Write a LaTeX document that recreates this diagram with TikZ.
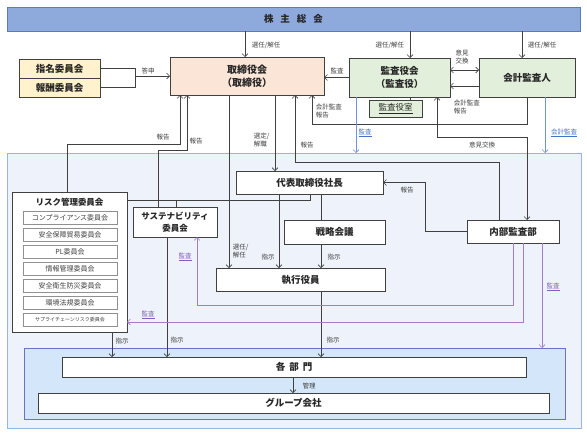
\documentclass[tikz,border=0pt]{standalone}
\usepackage{fontspec}
\setmainfont{Noto Sans CJK JP}
\usetikzlibrary{arrows.meta}
\definecolor{lineC}{HTML}{404040}
\definecolor{txtC}{HTML}{404040}
\definecolor{barF}{HTML}{8EA9DB}
\definecolor{barD}{HTML}{5B7BC0}
\definecolor{peach}{HTML}{FBE5D6}
\definecolor{grn}{HTML}{E2EFDA}
\definecolor{yel}{HTML}{FFF2CC}
\definecolor{outerF}{HTML}{EEF2FA}
\definecolor{outerD}{HTML}{9BB3E0}
\definecolor{innerF}{HTML}{D4E6FA}
\definecolor{innerD}{HTML}{6A72C8}
\definecolor{purp}{HTML}{A07CCB}
\definecolor{purpT}{HTML}{8060B8}
\definecolor{blueL}{HTML}{7094D8}
\definecolor{blueT}{HTML}{4472C4}
\definecolor{subD}{HTML}{909090}
\begin{document}
\begin{tikzpicture}[x=1pt,y=-1pt, line width=0.6pt,
 >={Straight Barb[length=3pt,width=6pt]},
 box/.style={draw=lineC, fill=white, inner sep=0pt, outer sep=0pt, align=center, font=\fontsize{9.5}{12.5}\selectfont\bfseries, text=black!85},
 region/.style={inner sep=0pt, outer sep=0pt},
 subbox/.style={draw=subD, fill=white, inner sep=0pt, outer sep=0pt, minimum width=94, minimum height=13, font=\fontsize{7}{8}\selectfont, text=txtC},
 lbl/.style={font=\fontsize{6.5}{7.8}\selectfont, text=txtC, inner sep=0.5pt, align=left},
 conn/.style={draw=lineC},
 pconn/.style={draw=purp},
 bconn/.style={draw=blueL},
]
\useasboundingbox (0,0) rectangle (587,434);
\fill[white] (0,0) rectangle (587,434);

% column / row helper coordinates
\foreach \c in {67,112,135,158,167,176,180,187,197,229,245,275,279,293,295,310,312,321,356,410,425,437,499,513,522,523,527,542,545}{
  \coordinate (X\c) at (\c,0);
}
\foreach \r in {70,86,124,137,144,150,162,200,305,322}{
  \coordinate (Y\r) at (0,\r);
}

% regions
\node[region, draw=outerD, fill=outerF, minimum width=574, minimum height=275] (exec) at (294,290.5) {};
\node[region, draw=innerD, fill=innerF, minimum width=541, minimum height=71] (dept) at (294.5,383.5) {};

% boxes
\node[box, draw=barD, fill=barF, minimum width=573, minimum height=24] (gm) at (293.5,19) {株\hspace{7pt}主\hspace{7pt}総\hspace{7pt}会};
\node[box, fill=yel, minimum width=81, minimum height=19] (shimei) at (59.5,68.5) {指名委員会};
\node[box, fill=yel, minimum width=81, minimum height=19] (houshu) at (59.5,87.5) {報酬委員会};
\node[box, fill=peach, minimum width=154, minimum height=38, font=\fontsize{10}{13}\selectfont\bfseries] (tori) at (247,76) {取締役会\\（取締役）};
\node[box, fill=grn, minimum width=101, minimum height=39] (kansa) at (399.5,77.5) {監査役会\\（監査役）};
\node[box, fill=grn, minimum width=53, minimum height=17, font=\fontsize{8.5}{10}\selectfont] (kshitsu) at (395.5,108.5) {\underline{監査役室}};
\node[box, fill=grn, minimum width=96, minimum height=39] (kaikei) at (527,77.5) {会計監査人};

\node[box, minimum width=147, minimum height=23] (daihyo) at (309.5,182.5) {代表取締役社長};
\node[box, minimum width=101, minimum height=24] (senryaku) at (334.5,232) {戦略会議};
\node[box, minimum width=169, minimum height=23] (shikko) at (300.5,279.5) {執行役員};
\node[box, minimum width=92, minimum height=23] (naibu) at (513,231.5) {内部監査部};
\node[box, minimum width=84, minimum height=30, font=\fontsize{8.5}{11.5}\selectfont\bfseries] (sus) at (175,222) {サステナビリティ\\委員会};

\node[box, minimum width=115, minimum height=140] (risk) at (69.5,262) {};
\node[font=\fontsize{8.5}{10}\selectfont\bfseries, text=black!85, inner sep=0pt] (risktitle) at (69.5,202) {リスク管理委員会};
\node[subbox] (s1) at (70,217.5) {コンプライアンス委員会};
\node[subbox] (s2) at (70,234.5) {安全保障貿易委員会};
\node[subbox] (s3) at (70,251.5) {PL委員会};
\node[subbox] (s4) at (70,268.5) {情報管理委員会};
\node[subbox] (s5) at (70,285.5) {安全衛生防災委員会};
\node[subbox] (s6) at (70,302.5) {環境法規委員会};
\node[subbox, font=\fontsize{5}{6}\selectfont] (s7) at (70,319.5) {サプライチェーンリスク委員会};

\node[box, minimum width=464, minimum height=20] (bumon) at (294,367) {各\hspace{4pt}部\hspace{4pt}門};
\node[box, minimum width=511, minimum height=20] (group) at (293.5,403) {グループ会社};

% connectors (dark)
\draw[conn,->] (gm.south -| X245) -- (tori.north -| X245);
\draw[conn,->] (gm.south -| X410) -- (kansa.north -| X410);
\draw[conn,->] (gm.south -| X522) -- (kaikei.north -| X522);
\draw[conn] (shimei.east) -| (X135 |- houshu.east) -- (houshu.east);
\draw[conn,->] (X135 |- tori.west) -- (tori.west);
\draw[conn,->] (kansa.west) -- (tori.east |- kansa.west);
\draw[conn,<->] (kansa.east |- Y70) -- (kaikei.west |- Y70);
\draw[conn,->] (kaikei.west |- Y86) -- (kansa.east |- Y86);
\draw[conn] (kansa.south -| X410) -- (kshitsu.north -| X410);
\draw[conn,->] (kaikei.south -| X527) -- (X527 |- Y124) -- (X312 |- Y124) -- (tori.south -| X312);
\draw[conn,<->] (kansa.south -| X437) -- (X437 |- Y137) -- (X527 |- Y137) -- (naibu.north -| X527);
\draw[conn,->] (risk.north -| X67) -- (X67 |- Y144) -- (X180 |- Y144) -- (tori.south -| X180);
\draw[conn,->] (sus.north -| X158) -- (X158 |- Y150) -- (X187 |- Y150) -- (tori.south -| X187);
\draw[conn,->] (tori.south -| X229) -- (shikko.north -| X229);
\draw[conn,->] (tori.south -| X275) -- (daihyo.north -| X275);
\draw[conn,->] (naibu.north -| X499) -- (X499 |- Y162) -- (X295 |- Y162) -- (tori.south -| X295);
\draw[conn,->] (naibu.west) -- (X425 |- naibu.west) -- (X425 |- daihyo.east) -- (daihyo.east);
\draw[conn] (daihyo.south -| X310) -- (X310 |- Y200) -- (risk.east |- Y200);
\draw[conn] (X176 |- Y200) -- (sus.north -| X176);
\draw[conn,->] (daihyo.south -| X279) -- (shikko.north -| X279);
\draw[conn] (daihyo.south -| X321) -- (senryaku.north -| X321);
\draw[conn,->] (senryaku.south -| X321) -- (shikko.north -| X321);
\draw[conn,->] (shikko.south -| X321) -- (bumon.north -| X321);
\draw[conn,->] (risk.south -| X112) -- (bumon.north -| X112);
\draw[conn,->] (sus.south -| X167) -- (bumon.north -| X167);
\draw[conn,->] (bumon.south -| X293) -- (group.north -| X293);

% blue
\draw[bconn,->] (kansa.south -| X356) -- (exec.north -| X356);
\draw[bconn,->] (kaikei.south -| X545) -- (exec.north -| X545);

% purple
\draw[pconn,->] (naibu.south -| X513) -- (X513 |- Y305) -- (X197 |- Y305) -- (sus.south -| X197);
\draw[pconn,->] (naibu.south -| X523) -- (X523 |- Y322) -- (risk.east |- Y322);
\draw[pconn,->] (naibu.south -| X542) -- (dept.north -| X542);

% labels
\node[lbl, anchor=west] (l1) at (251,45) {選任/解任};
\node[lbl, anchor=east] (l2) at (405,45) {選任/解任};
\node[lbl, anchor=west] (l3) at (527,45) {選任/解任};
\node[lbl] (l4) at (148,71) {答申};
\node[lbl] (l5) at (337,71) {監査};
\node[lbl, align=center] (l6) at (462,57) {意見\\交換};
\node[lbl, anchor=north west] (l7) at (453,99) {会計監査\\報告};
\node[lbl, anchor=north west] (l8) at (315,103) {会計監査\\報告};
\node[lbl, text=blueT] (l9) at (365,133) {\underline{監査}};
\node[lbl, text=blueT] (l10) at (564,133) {\underline{会計監査}};
\node[lbl] (l11) at (482,145) {意見交換};
\node[lbl] (l12) at (163,137) {報告};
\node[lbl] (l13) at (196,141) {報告};
\node[lbl, anchor=west] (l14) at (253,140) {選定/\\解職};
\node[lbl] (l15) at (307,145) {報告};
\node[lbl] (l16) at (407,190) {報告};
\node[lbl, anchor=west] (l17) at (232,251) {選任/\\解任};
\node[lbl] (l18) at (268,257) {指示};
\node[lbl] (l19) at (334,257) {指示};
\node[lbl, text=purpT] (l20) at (185,257) {\underline{監査}};
\node[lbl, text=purpT] (l21) at (148,315) {\underline{監査}};
\node[lbl, text=purpT] (l22) at (553,287) {\underline{監査}};
\node[lbl] (l23) at (122,341) {指示};
\node[lbl] (l24) at (177,340) {指示};
\node[lbl] (l25) at (333,340) {指示};
\node[lbl] (l26) at (309,386) {管理};
\end{tikzpicture}
\end{document}
